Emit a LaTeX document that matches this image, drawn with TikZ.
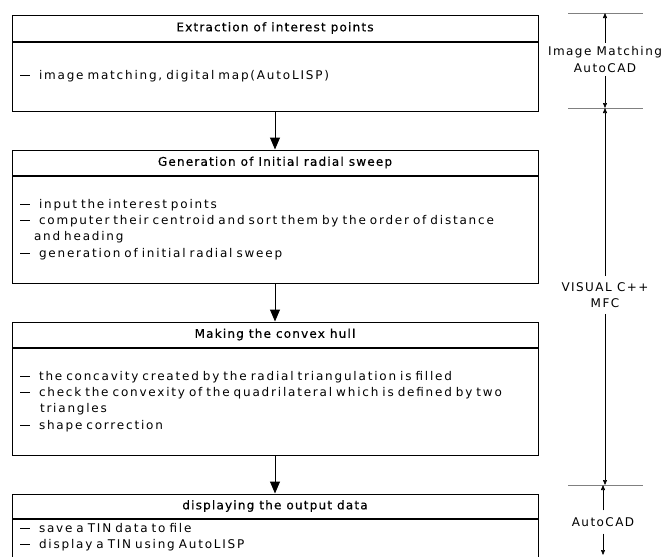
\documentclass[tikz,border=0pt]{standalone}
\usepackage{fontspec}
\setmainfont[LetterSpace=12]{DejaVu Sans}
\newfontfamily\headfont[LetterSpace=10, FakeBold=0.5]{DejaVu Sans}
\newfontfamily\bodyfont[LetterSpace=15]{DejaVu Sans}
\usetikzlibrary{arrows.meta, positioning}
\newcommand{\itemdash}{\rule[3.6pt]{10pt}{0.8pt}\hspace{9pt}}
\newcommand{\setbodyfont}{\bodyfont\fontsize{12}{16.3}\selectfont\spaceskip=7pt plus 1pt\relax}

\begin{document}
\begin{tikzpicture}[x=1pt, y=-1pt, node distance=38pt,
    font=\fontsize{12}{16.3}\selectfont,
    head/.style={draw, line width=1pt, minimum width=526pt, minimum height=25pt, inner sep=0pt, font=\headfont\fontsize{12}{16.3}\selectfont},
    body/.style={draw, line width=1pt, minimum width=526pt, text width=510pt, align=left, inner xsep=8pt, inner ysep=4pt, font=\setbodyfont},
    flow/.style={-{Triangle[length=12pt, width=10pt]}, line width=1pt},
    dimline/.style={-{Triangle[length=5pt, width=4pt]}, line width=0.6pt},
    tickline/.style={gray, line width=0.8pt},
    dimlabel/.style={align=center, inner xsep=0pt}]
    \useasboundingbox (0,0) rectangle (665,557);
    \clip (0,0) rectangle (665,557);

    \node[head, minimum height=26pt] (h1) at (275,28) {Extraction of interest points};
    \node[body, minimum height=69pt] (b1) [below=0pt of h1] {\itemdash image matching, digital map(AutoLISP)};

    \node[head] (h2) [below=of b1] {Generation of Initial radial sweep};
    \node[body, minimum height=107pt] (b2) [below=0pt of h2] {\itemdash input the interest points\\
        \itemdash computer their centroid and sort them by the order of distance\\
        \hspace*{14pt}and heading\\
        \itemdash generation of initial radial sweep};

    \node[head] (h3) [below=of b2] {Making the convex hull};
    \node[body, minimum height=107pt] (b3) [below=0pt of h3] {\itemdash the concavity created by the radial triangulation is filled\\
        \itemdash check the convexity of the quadrilateral which is defined by two\\
        \hspace*{20pt}triangles\\
        \itemdash shape correction};

    \node[head, minimum height=24pt] (h4) [below=of b3] {displaying the output data};
    \node[body] (b4) [below=0pt of h4] {\itemdash save a TIN data to file\\
        \itemdash display a TIN using AutoLISP\\ \mbox{}}; % box runs off the page

    \draw[flow] (b1) -- (h2);
    \draw[flow] (b2) -- (h3);
    \draw[flow] (b3) -- (h4);

    % tool ranges on the right
    \coordinate (d1) at (605,13);
    \coordinate (d2) at (605,108);
    \coordinate (d3) at (605,485);
    \coordinate (d4) at (605,555);
    \foreach \d in {d1, d2, d3}
        \draw[tickline] ([xshift=-37pt]\d) -- ([xshift=38pt]\d);

    \node[dimlabel, inner ysep=4pt] (l1) at (605,59.5) {Image Matching\\AutoCAD};
    \node[dimlabel, inner ysep=6pt] (l2) at (605,295) {VISUAL C++\\MFC};
    \node[dimlabel, inner ysep=7pt] (l3) at (603,522) {AutoCAD};

    \draw[dimline] (l1) -- (d1);
    \draw[dimline] (l1) -- (d2);
    \draw[dimline] (l2) -- (d2);
    \draw[dimline] (l2) -- (d3);
    \draw[dimline] (l3 |- l3.north) -- (d3 -| l3);
    \draw[dimline] (l3) -- (d4 -| l3);
\end{tikzpicture}
\end{document}
